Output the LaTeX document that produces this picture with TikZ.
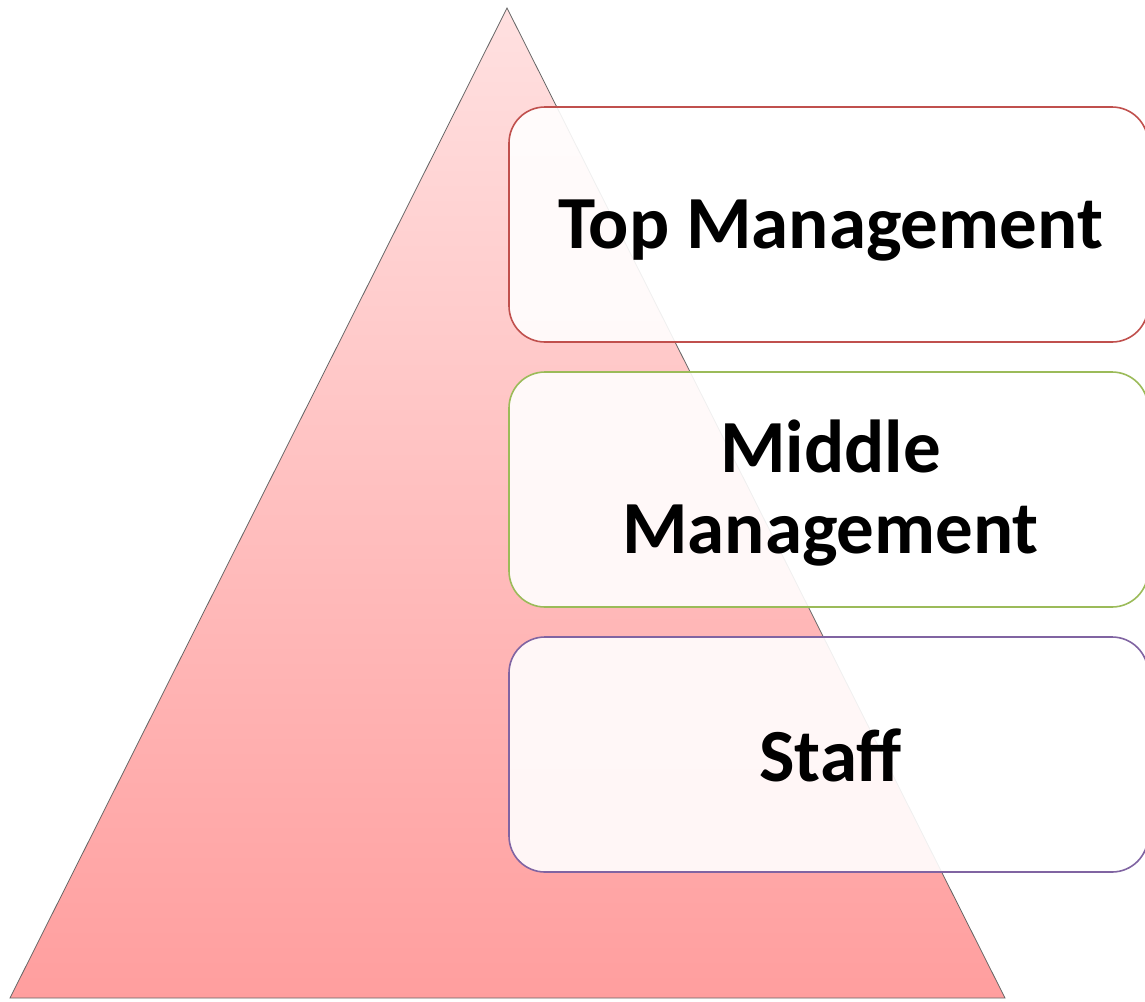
\documentclass[tikz,border=0pt]{standalone}
\usepackage{fontspec}
\setmainfont{Carlito}
\begin{document}
\begin{tikzpicture}[x=1pt,y=-1pt,
  levelbox/.style={draw, line width=1.6pt, rounded corners=36pt, fill=white, fill opacity=0.9,
     minimum width=639pt, minimum height=235pt, inner sep=0pt},
  lbl/.style={align=center, inner sep=0pt, font=\fontsize{75}{81}\selectfont\bfseries},
  tri/.style={draw=black!60, line width=0.8pt, top color=red!12, bottom color=red!38!white}]
\useasboundingbox (0,0) rectangle (1145,1001);
\coordinate (apex) at (507,8);
\coordinate (bl) at (10,998);
\coordinate (br) at (1005,998);
\path[tri] (apex) -- (br) -- (bl) -- cycle;
\node[levelbox, draw={rgb,255:red,192;green,80;blue,77}] (top) at (828.5,224.5) {};
\node[levelbox, draw={rgb,255:red,155;green,187;blue,89}] (mid) at (828.5,489.5) {};
\node[levelbox, draw={rgb,255:red,128;green,100;blue,162}] (staff) at (828.5,754.5) {};
\node[lbl] (toplbl) at ([yshift=-6pt,xshift=2pt]top.center) {Top Management};
\node[lbl] (midlbl) at ([yshift=-4pt,xshift=2pt]mid.center) {Middle\\Management};
\node[lbl] (stafflbl) at ([yshift=-1pt,xshift=2pt]staff.center) {Staff};
\end{tikzpicture}
\end{document}
